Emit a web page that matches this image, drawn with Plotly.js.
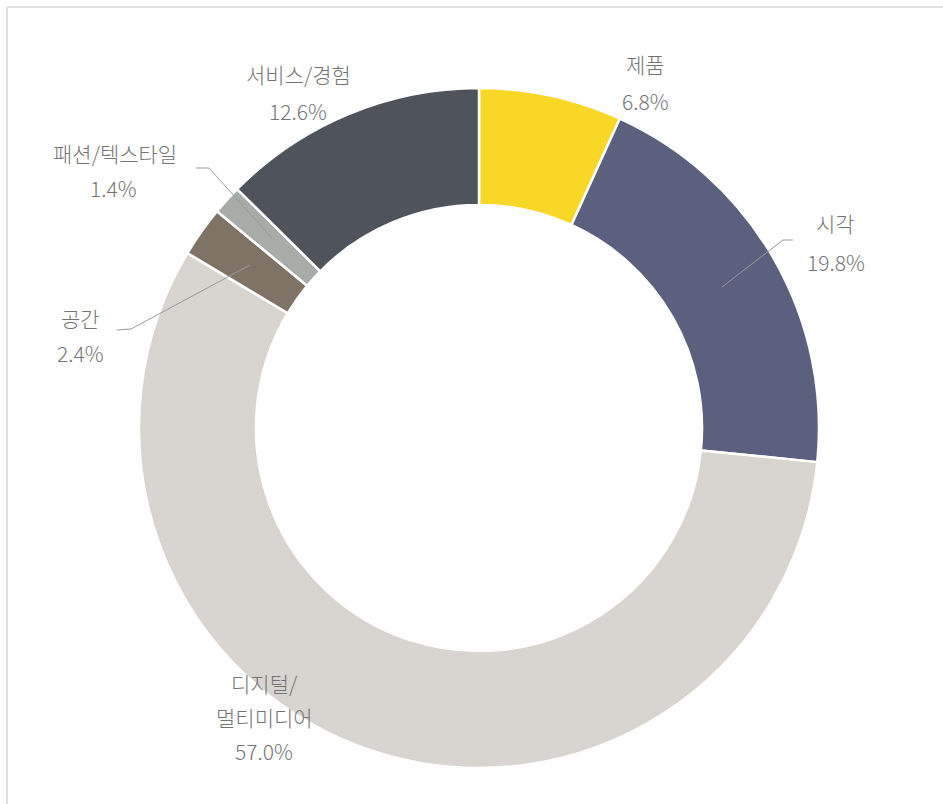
<!DOCTYPE html>
<html>
<head>
<meta charset="utf-8">
<script src="https://cdn.plot.ly/plotly-3.0.1.min.js"></script>
<style>
html,body{margin:0;padding:0;background:#fff;}
#chart{width:943px;height:804px;}
</style>
</head>
<body>
<div id="chart"></div>
<script>
// Data (clockwise from 12 o'clock)
var categories = ['제품', '시각', '디지털/멀티미디어', '공간', '패션/텍스타일', '서비스/경험'];
var values = [6.8, 19.8, 57.0, 2.4, 1.4, 12.6];
var colors = ['#F8D727', '#5C607F', '#D8D4D0', '#7F7366', '#A7ACA8', '#4F545C'];
// label text lines per category (name lines)
var nameLines = [['제품'], ['시각'], ['디지털/', '멀티미디어'], ['공간'], ['패션/텍스타일'], ['서비스/경험']];

var W = 943, H = 804;
function px(x){ return x / W; }
function py(y){ return 1 - y / H; }

// label anchor positions (pixel centers of first line) and line spacing
var labelPos = [[645, 64], [835, 223], [264, 683], [80, 318], [115, 153], [298, 74]];
var lineGap = [37, 39, 34, 35, 35, 37];

var annotations = [];
categories.forEach(function(c, i){
  var lines = nameLines[i].concat([values[i].toFixed(1) + '%']);
  lines.forEach(function(t, j){
    annotations.push({
      xref: 'paper', yref: 'paper',
      x: px(labelPos[i][0] + (j === lines.length - 1 && i === 4 ? -2 : 0) + (j===lines.length-1 && i===1 ? 1 : 0)),
      y: py(labelPos[i][1] + j * lineGap[i]),
      text: t, showarrow: false,
      xanchor: 'center', yanchor: 'middle',
      font: {family: '"Noto Sans CJK KR", "Noto Sans", sans-serif', size: 21, weight: 300, color: '#747474'}
    });
  });
});

function pathFrom(pts){
  return pts.map(function(p, k){ return (k ? 'L' : 'M') + px(p[0]) + ',' + py(p[1]); }).join(' ');
}
var leaderLines = [
  [[722, 287], [783, 240], [793, 240]],
  [[196, 168], [209, 168], [272, 238]],
  [[117, 330], [131, 329], [250, 265]]
];
var shapes = leaderLines.map(function(pts){
  return {type: 'path', xref: 'paper', yref: 'paper', path: pathFrom(pts),
          line: {color: '#9a9a9a', width: 1}};
});
// frame lines (top and left)
shapes.push({type: 'line', xref: 'paper', yref: 'paper', x0: px(7), x1: px(943), y0: py(7), y1: py(7), line: {color: '#dedede', width: 2}});
shapes.push({type: 'line', xref: 'paper', yref: 'paper', x0: px(7), x1: px(7), y0: py(7), y1: py(804), line: {color: '#dedede', width: 2}});

var trace = {
  type: 'pie',
  labels: categories,
  values: values,
  marker: {colors: colors, line: {color: '#ffffff', width: 2.5}},
  hole: 0.656,
  sort: false,
  direction: 'clockwise',
  rotation: 0,
  textinfo: 'none',
  hoverinfo: 'label+percent',
  domain: {x: [px(139), px(819)], y: [py(768), py(88)]}
};

var layout = {
  width: W, height: H,
  margin: {l: 0, r: 0, t: 0, b: 0},
  showlegend: false,
  paper_bgcolor: '#ffffff',
  annotations: annotations,
  shapes: shapes
};

Plotly.newPlot('chart', [trace], layout, {displayModeBar: false, staticPlot: true});
</script>
</body>
</html>
